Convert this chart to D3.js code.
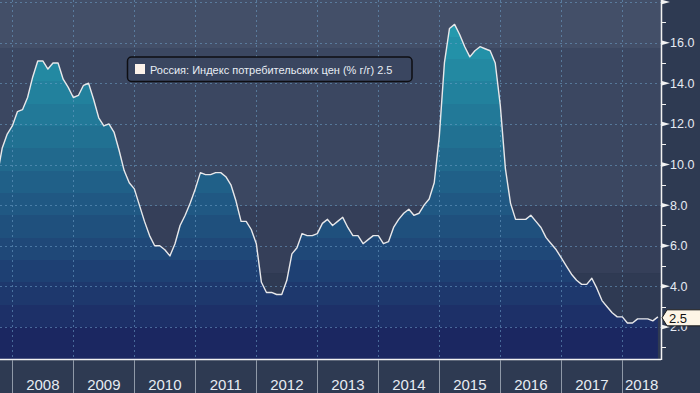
<!DOCTYPE html>
<html><head><meta charset="utf-8">
<script src="https://cdn.jsdelivr.net/npm/d3@7/dist/d3.min.js"></script>
<style>html,body{margin:0;padding:0;background:#2e3a52;}svg{display:block;}</style>
</head><body>
<svg id="chart" width="700" height="393"></svg>
<script>
// ---- data ----
const startMonth = "2007-09";
const cpiValues = [
  9.4, 10.8, 11.5, 11.9,
  12.6, 12.7, 13.3, 14.3, 15.1, 15.1, 14.7, 15.0, 15.0, 14.2, 13.8, 13.3,
  13.4, 13.9, 14.0, 13.2, 12.3, 11.9, 12.0, 11.6, 10.7, 9.7, 9.1, 8.8,
  8.0, 7.2, 6.5, 6.0, 6.0, 5.8, 5.5, 6.1, 7.0, 7.5, 8.1, 8.8,
  9.6, 9.5, 9.5, 9.6, 9.6, 9.4, 9.0, 8.2, 7.2, 7.2, 6.8, 6.1,
  4.2, 3.7, 3.7, 3.6, 3.6, 4.3, 5.6, 5.9, 6.6, 6.5, 6.5, 6.6,
  7.1, 7.3, 7.0, 7.2, 7.4, 6.9, 6.5, 6.5, 6.1, 6.3, 6.5, 6.5,
  6.1, 6.2, 6.9, 7.3, 7.6, 7.8, 7.5, 7.6, 8.0, 8.3, 9.1, 11.4,
  15.0, 16.7, 16.9, 16.4, 15.8, 15.3, 15.6, 15.8, 15.7, 15.6, 15.0, 12.9,
  9.8, 8.1, 7.3, 7.3, 7.3, 7.5, 7.2, 6.9, 6.4, 6.1, 5.8, 5.4,
  5.0, 4.6, 4.3, 4.1, 4.1, 4.4, 3.9, 3.3, 3.0, 2.7, 2.5, 2.5,
  2.2, 2.2, 2.4, 2.4, 2.4, 2.3, 2.5
];
const years = [2008, 2009, 2010, 2011, 2012, 2013, 2014, 2015, 2016, 2017, 2018];
const yearLabels = ["2008","2009","2010","2011","2012","2013","2014","2015","2016","2017","2018"];
const majorTicks = [2, 4, 6, 8, 10, 12, 14, 16, 18];
const majorTickLabels = ["2.0","4.0","6.0","8.0","10.0","12.0","14.0","16.0",""];
const minorTicks = [1, 3, 5, 7, 9, 11, 13, 15, 17];
const seriesName = "Россия: Индекс потребительских цен (% г/г)";
const lastValueLabel = "2.5";

// ---- layout ----
const W = 700, H = 393;
const plot = {left: 0, right: 661, top: 0, bottom: 359};
const xDomain = [2007.798, 2018.634];
const yDomain = [0.424, 18.1];

const svg = d3.select("#chart");
const x = d3.scaleLinear().domain(xDomain).range([plot.left, plot.right]);
const y = d3.scaleLinear().domain(yDomain).range([plot.bottom, plot.top]);

const [sy, sm] = startMonth.split("-").map(Number);
const data = cpiValues.map((v, i) => {
  const m = sm - 1 + i; // 0-based month index from start year
  const yr = sy + Math.floor(m / 12), mo = (m % 12) + 1;
  return {t: yr + mo / 12, v}; // end of month
});

svg.append("rect").attr("width", W).attr("height", H).attr("fill", "#2e3a52");

const defs = svg.append("defs");
defs.append("clipPath").attr("id", "clip").append("rect")
  .attr("x", plot.left).attr("y", plot.top)
  .attr("width", plot.right - plot.left).attr("height", plot.bottom - plot.top);

// background bands (by value)
const bgBands = [
  {from: 15.7, to: yDomain[1], c: "#434f68"},
  {from: 7.95, to: 15.7, c: "#3b4761"},
  {from: 4.65, to: 7.95, c: "#353f59"},
  {from: yDomain[0], to: 4.65, c: "#2f3a53"}
];
const g = svg.append("g").attr("clip-path", "url(#clip)");
g.selectAll("rect.bg").data(bgBands).join("rect").attr("class", "bg")
  .attr("x", plot.left).attr("width", plot.right - plot.left)
  .attr("y", d => y(d.to)).attr("height", d => y(d.from) - y(d.to))
  .attr("fill", d => d.c);

// stepped gradient for the area
const grad = defs.append("linearGradient").attr("id", "fillGrad")
  .attr("gradientUnits", "userSpaceOnUse")
  .attr("x1", 0).attr("x2", 0).attr("y1", y(yDomain[0])).attr("y2", y(yDomain[1]));
const bandStep = 1.1, nBands = 15;
const colorAt = d3.interpolateRgb("#1d3068", "#2499ad");
const stops = [];
const frac = v => (v - yDomain[0]) / (yDomain[1] - yDomain[0]);
stops.push([0, "#1b2761"], [frac(2.0), "#1b2761"]);
for (let k = 0; k < nBands; k++) {
  const lo = 2.0 + k * bandStep, hi = lo + bandStep;
  const c = colorAt(Math.min(1, k / (nBands - 2)));
  stops.push([frac(lo), c], [Math.min(1, frac(hi)), c]);
}
grad.selectAll("stop").data(stops).join("stop")
  .attr("offset", d => d[0]).attr("stop-color", d => d[1]);

const area = d3.area().x(d => x(d.t)).y0(plot.bottom).y1(d => y(d.v));
g.append("path").datum(data).attr("d", area).attr("fill", "url(#fillGrad)");

// grid
const gridColor = "rgba(110,160,200,0.55)";
g.selectAll("line.hg").data(majorTicks).join("line").attr("class", "hg")
  .attr("x1", plot.left).attr("x2", plot.right)
  .attr("y1", d => Math.round(y(d)) + 0.5).attr("y2", d => Math.round(y(d)) + 0.5)
  .attr("stroke", gridColor).attr("stroke-dasharray", "2,3");
g.selectAll("line.vg").data(years).join("line").attr("class", "vg")
  .attr("y1", plot.top).attr("y2", plot.bottom)
  .attr("x1", d => Math.round(x(d)) + 0.5).attr("x2", d => Math.round(x(d)) + 0.5)
  .attr("stroke", gridColor).attr("stroke-dasharray", "2,3");

// line
const line = d3.line().x(d => x(d.t)).y(d => y(d.v));
g.append("path").datum(data).attr("d", line)
  .attr("fill", "none").attr("stroke", "#e8e8ea").attr("stroke-width", 1.4)
  .attr("stroke-linejoin", "round");

// bottom axis
svg.append("line").attr("x1", plot.left).attr("x2", plot.right)
  .attr("y1", plot.bottom + 0.5).attr("y2", plot.bottom + 0.5)
  .attr("stroke", "#f2f2f2").attr("stroke-width", 1.5);
svg.selectAll("line.xt").data(years).join("line").attr("class", "xt")
  .attr("x1", d => Math.round(x(d)) + 0.5).attr("x2", d => Math.round(x(d)) + 0.5)
  .attr("y1", plot.bottom + 1).attr("y2", H)
  .attr("stroke", "#8f99a8").attr("stroke-width", 1);
svg.selectAll("text.xl").data(years).join("text").attr("class", "xl")
  .attr("x", d => (x(d) + Math.min(x(d + 1), plot.right)) / 2)
  .attr("y", 390)
  .attr("text-anchor", "middle")
  .attr("font-family", "'Liberation Sans Narrow', 'Arial Narrow', 'Liberation Sans', sans-serif")
  .attr("font-size", 15).attr("fill", "#e6ebf2")
  .text((d, i) => yearLabels[i]);

// right axis
svg.append("line").attr("x1", plot.right + 0.5).attr("x2", plot.right + 0.5)
  .attr("y1", plot.top).attr("y2", plot.bottom + 1)
  .attr("stroke", "#f2f2f2").attr("stroke-width", 1.5);
svg.selectAll("path.tri").data(majorTicks).join("path").attr("class", "tri")
  .attr("d", d => `M${plot.right},${y(d) - 2.5}L${plot.right + 9},${y(d)}L${plot.right},${y(d) + 2.5}Z`)
  .attr("fill", "#f2f2f2");
svg.selectAll("line.mt").data(minorTicks).join("line").attr("class", "mt")
  .attr("x1", plot.right).attr("x2", plot.right + 5)
  .attr("y1", d => Math.round(y(d)) + 0.5).attr("y2", d => Math.round(y(d)) + 0.5)
  .attr("stroke", "#f2f2f2").attr("stroke-width", 1);
svg.selectAll("text.yl").data(majorTicks).join("text").attr("class", "yl")
  .attr("x", plot.right + 9).attr("y", d => y(d)).attr("dy", "0.36em")
  .attr("font-family", "'Liberation Sans', Arial, sans-serif")
  .attr("font-size", 12.5).attr("fill", "#e6ebf2")
  .text((d, i) => majorTickLabels[i]);

// last value callout
const last = data[data.length - 1];
const cy = y(last.v) + 1;
svg.append("path")
  .attr("d", `M${plot.right + 1},${cy}L${plot.right + 6},${cy - 8}L${W + 2},${cy - 8}L${W + 2},${cy + 8}L${plot.right + 6},${cy + 8}Z`)
  .attr("fill", "#fdf5e6").attr("stroke", "#1a1a1a").attr("stroke-width", 1);
svg.append("text").attr("x", plot.right + 8).attr("y", cy).attr("dy", "0.36em")
  .attr("font-family", "'Liberation Sans', Arial, sans-serif")
  .attr("font-size", 13).attr("fill", "#111").text(lastValueLabel);

// legend
const lg = svg.append("g");
lg.append("rect").attr("x", 127.5).attr("y", 57).attr("width", 284.5).attr("height", 24.5)
  .attr("rx", 4).attr("fill", "#3a4660").attr("stroke", "#0e0e12").attr("stroke-width", 1.5);
lg.append("rect").attr("x", 135).attr("y", 64).attr("width", 10).attr("height", 10)
  .attr("fill", "#fdf3ea");
lg.append("text").attr("x", 150).attr("y", 73.5)
  .attr("font-family", "'Liberation Sans', Arial, sans-serif")
  .attr("font-size", 11).attr("fill", "#e8edf4")
  .text(seriesName + " " + lastValueLabel);
</script>
</body></html>
